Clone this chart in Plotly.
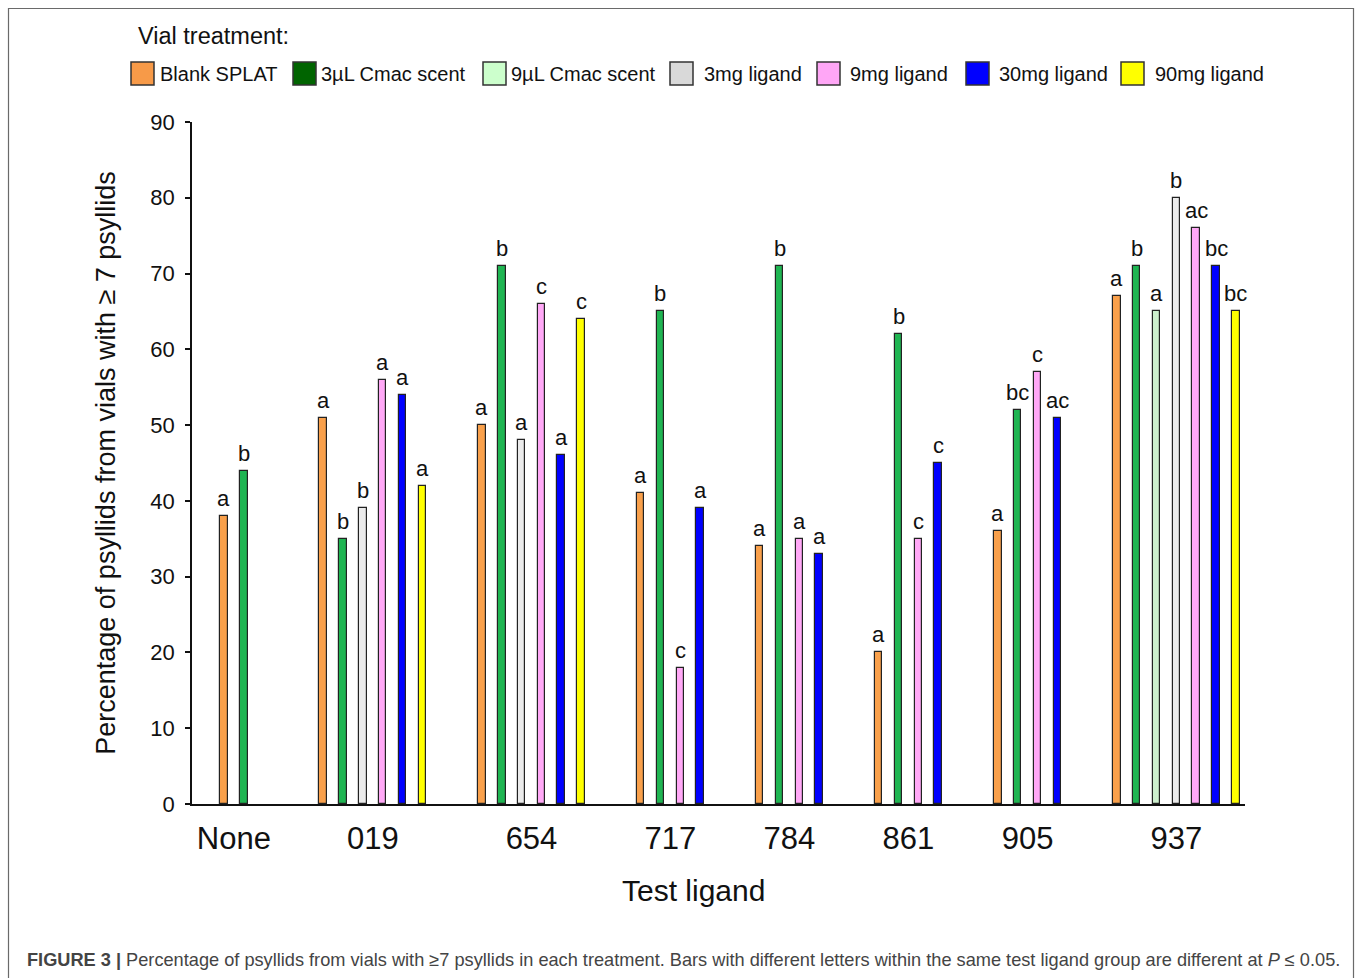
import plotly.graph_objects as go

# ---------------- data ----------------
groups = ["None", "019", "654", "717", "784", "861", "905", "937"]
treatments = ["Blank SPLAT", "3µL Cmac scent", "9µL Cmac scent", "3mg ligand",
              "9mg ligand", "30mg ligand", "90mg ligand"]

blank_splat = [38, 51, 50, 41, 34, 20, 36, 67]
cmac_3ul = [44, 35, 71, 65, 71, 62, 52, 71]
cmac_9ul = [None, None, None, None, None, None, None, 65]
ligand_3mg = [None, 39, 48, None, None, None, None, 80]
ligand_9mg = [None, 56, 66, 18, 35, 35, 57, 76]
ligand_30mg = [None, 54, 46, 39, 33, 45, 51, 71]
ligand_90mg = [None, 42, 64, None, None, None, None, 65]

letters_blank = ["a", "a", "a", "a", "a", "a", "a", "a"]
letters_cmac3 = ["b", "b", "b", "b", "b", "b", "bc", "b"]
letters_cmac9 = [None, None, None, None, None, None, None, "a"]
letters_lig3 = [None, "b", "a", None, None, None, None, "b"]
letters_lig9 = [None, "a", "c", "c", "a", "c", "c", "ac"]
letters_lig30 = [None, "a", "a", "a", "a", "c", "ac", "bc"]
letters_lig90 = [None, "a", "c", None, None, None, None, "bc"]

series_values = [blank_splat, cmac_3ul, cmac_9ul, ligand_3mg, ligand_9mg, ligand_30mg, ligand_90mg]
series_letters = [letters_blank, letters_cmac3, letters_cmac9, letters_lig3,
                  letters_lig9, letters_lig30, letters_lig90]

# ---------------- styles ----------------
bar_colors = ["#F9A04B", "#1FB552", "#CDEFCD", "#EBEBEB", "#FFA8F6", "#0000FF", "#FFFF00"]
legend_colors = ["#F79A48", "#006400", "#CCFFCC", "#D9D9D9", "#FFA6F6", "#0000FF", "#FFFF00"]
group_gap_before = [0, 3, 2, 2, 2, 2, 2, 2]
FONT = "Liberation Sans, Arial, sans-serif"

# slot positions: consecutive slots per present bar inside a group
positions = [[None] * len(groups) for _ in treatments]
group_centers = []
slot = 0
for gi, g in enumerate(groups):
    slot += group_gap_before[gi]
    used = []
    for ti in range(len(treatments)):
        if series_values[ti][gi] is not None:
            positions[ti][gi] = slot
            used.append(slot)
            slot += 1
    group_centers.append(sum(used) / len(used))

fig = go.Figure()
annotations = []
for ti, name in enumerate(treatments):
    xs = [p for p, v in zip(positions[ti], series_values[ti]) if v is not None]
    ys = [v for v in series_values[ti] if v is not None]
    ls = [l for l, v in zip(series_letters[ti], series_values[ti]) if v is not None]
    fig.add_trace(go.Bar(
        x=xs, y=ys, name=name, width=0.38, showlegend=False,
        marker=dict(color=bar_colors[ti], line=dict(color="#222222", width=1.2)),
    ))
    for x, y, l in zip(xs, ys, ls):
        annotations.append(dict(x=x, y=y, xref="x", yref="y", text=l, showarrow=False,
                                xanchor="center", yanchor="bottom", yshift=3,
                                font=dict(family=FONT, size=22, color="#111111")))

# plot area in px: left 192, right 1245, top 122, bottom 804
L, R, T, B = 192, 1245, 122, 804
W, H = R - L, B - T


def px(x):
    return (x - L) / W


def py(y):
    return (B - y) / H


shapes = []
# frame
shapes.append(dict(type="rect", xref="paper", yref="paper", x0=px(8.5), x1=px(1353.5),
                   y0=py(1000), y1=py(8.5), line=dict(color="#6a6a6a", width=1.2),
                   fillcolor="rgba(0,0,0,0)", layer="below"))
# legend title
annotations.append(dict(text="Vial treatment:", xref="paper", yref="paper", x=px(136), y=py(36),
                        xanchor="left", yanchor="middle", showarrow=False,
                        font=dict(family=FONT, size=23.5, color="#111111")))
legend_box_x = [131, 293, 483, 670, 817, 966, 1121]
legend_text_x = [158, 319, 509, 702, 848, 997, 1153]
for i, name in enumerate(treatments):
    bx = legend_box_x[i]
    shapes.append(dict(type="rect", xref="paper", yref="paper", x0=px(bx), x1=px(bx + 23),
                       y0=py(85), y1=py(62), fillcolor=legend_colors[i],
                       line=dict(color="#333333", width=1.5)))
    annotations.append(dict(text=name, xref="paper", yref="paper", x=px(legend_text_x[i]), y=py(74),
                            xanchor="left", yanchor="middle", showarrow=False,
                            font=dict(family=FONT, size=20, color="#111111")))
# x-axis title (offset from plot centre as in the original)
annotations.append(dict(text="Test ligand", xref="paper", yref="paper", x=px(693), y=py(891),
                        xanchor="center", yanchor="middle", showarrow=False,
                        font=dict(family=FONT, size=30, color="#111111")))
# caption
annotations.append(dict(
    text="<b>FIGURE 3 |</b> Percentage of psyllids from vials with ≥7 psyllids in each treatment. "
         "Bars with different letters within the same test ligand group are different at <i>P</i> ≤ 0.05.",
    xref="paper", yref="paper", x=px(25), y=py(960), xanchor="left", yanchor="middle",
    showarrow=False, font=dict(family=FONT, size=18.2, color="#444444")))

fig.update_layout(
    width=1358, height=978,
    margin=dict(l=L, r=1358 - R, t=T, b=978 - B, pad=0),
    plot_bgcolor="white", paper_bgcolor="white",
    barmode="overlay", bargap=0,
    shapes=shapes, annotations=annotations,
    font=dict(family=FONT, color="#111111"),
)
fig.update_xaxes(
    range=[-1.61, 51.46], tickmode="array", tickvals=group_centers, ticktext=groups,
    showline=True, linecolor="#111111", linewidth=1.5, ticks="", showgrid=False, zeroline=False,
    tickfont=dict(family=FONT, size=31, color="#111111"), ticklabelstandoff=6,
)
fig.update_yaxes(
    range=[0, 90], tickmode="array", tickvals=list(range(0, 91, 10)),
    showline=True, linecolor="#111111", linewidth=1.5, ticks="outside", ticklen=5, tickwidth=1.5,
    tickcolor="#111111", showgrid=False, zeroline=False,
    tickfont=dict(family=FONT, size=22, color="#111111"), ticklabelstandoff=6,
    title=dict(text="Percentage of psyllids from vials with ≥ 7 psyllids",
               font=dict(family=FONT, size=27, color="#111111"), standoff=27),
)

fig.write_html("out.html", config={"displayModeBar": False},
               post_script="document.body.style.margin='0px';")
